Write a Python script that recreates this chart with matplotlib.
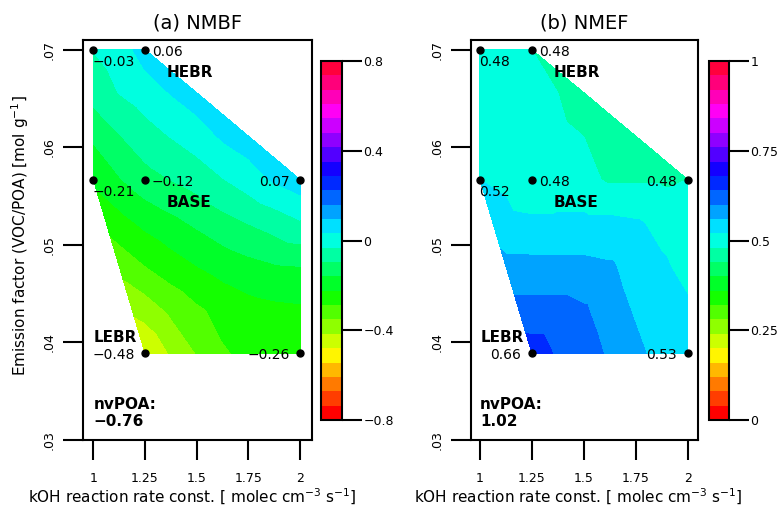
import numpy as np
import matplotlib
matplotlib.use("Agg")
import matplotlib.pyplot as plt
import matplotlib.tri as mtri
import colorsys

# ---------------- data ----------------
nan = np.nan
koh_grid = [1.0, 1.125, 1.25, 1.375, 1.5, 1.625, 1.75, 1.875, 2.0]
ef_grid = [0.07, 0.0656, 0.0611, 0.0567, 0.0522, 0.0478, 0.0433, 0.0389]

nmbf_grid = [
    [-0.03, 0.00, 0.06, nan, nan, nan, nan, nan, nan],
    [-0.07, -0.03, 0.00, 0.035, 0.065, nan, nan, nan, nan],
    [-0.15, -0.10, -0.06, -0.03, 0.00, 0.04, 0.065, nan, nan],
    [-0.21, -0.165, -0.12, -0.095, -0.07, -0.035, 0.00, 0.04, 0.07],
    [nan, -0.25, -0.21, -0.18, -0.15, -0.12, -0.095, -0.07, -0.04],
    [nan, -0.33, -0.29, -0.255, -0.225, -0.20, -0.18, -0.165, -0.16],
    [nan, nan, -0.39, -0.34, -0.30, -0.27, -0.25, -0.24, -0.235],
    [nan, nan, -0.48, -0.41, -0.35, -0.295, -0.275, -0.265, -0.26],
]
nmef_grid = [
    [0.48, 0.49, 0.48, nan, nan, nan, nan, nan, nan],
    [0.50, 0.50, 0.495, 0.48, 0.46, nan, nan, nan, nan],
    [0.505, 0.50, 0.50, 0.49, 0.48, 0.465, 0.46, nan, nan],
    [0.52, 0.51, 0.48, 0.49, 0.49, 0.475, 0.475, 0.475, 0.48],
    [nan, 0.535, 0.53, 0.53, 0.53, 0.53, 0.525, 0.51, 0.50],
    [nan, 0.57, 0.57, 0.57, 0.57, 0.565, 0.545, 0.525, 0.51],
    [nan, nan, 0.615, 0.615, 0.605, 0.58, 0.555, 0.54, 0.525],
    [nan, nan, 0.66, 0.635, 0.615, 0.595, 0.57, 0.545, 0.53],
]

pt_koh = [1.0, 1.25, 1.0, 1.25, 2.0, 1.25, 2.0]
pt_ef = [0.07, 0.07, 0.0567, 0.0567, 0.0567, 0.0389, 0.0389]
nmbf_pts = [-0.03, 0.06, -0.21, -0.12, 0.07, -0.48, -0.26]
nmef_pts = [0.48, 0.48, 0.52, 0.48, 0.48, 0.66, 0.53]
pt_place = ["below", "right", "below", "right", "left", "left", "left"]

nvpoa_nmbf = -0.76
nvpoa_nmef = 1.02

x_ticks = [1, 1.25, 1.5, 1.75, 2]
x_ticklabels = ["1", "1.25", "1.5", "1.75", "2"]
y_ticks = [0.03, 0.04, 0.05, 0.06, 0.07]
y_ticklabels = [".03", ".04", ".05", ".06", ".07"]

cb_ticks_a = [-0.8, -0.4, 0, 0.4, 0.8]
cb_labels_a = ["\u22120.8", "\u22120.4", "0", "0.4", "0.8"]
cb_ticks_b = [0, 0.25, 0.5, 0.75, 1]
cb_labels_b = ["0", "0.25", "0.5", "0.75", "1"]

# ---------------- style ----------------
plt.rcParams["font.family"] = ["DejaVu Sans"]
NLEV = 25
colors = [colorsys.hsv_to_rgb(k / NLEV, 1, 1) for k in range(NLEV)]

W, H = 781, 508
fig = plt.figure(figsize=(W / 100, H / 100), dpi=100)


def fr(l, t, r, b):
    return [l / W, 1 - b / H, (r - l) / W, (b - t) / H]


def fmt(v):
    s = f"{v:.2f}"
    return s.replace("-", "\u2212")


def panel(ax_box, cax_box, grid, pts, lo, hi, cb_ticks, cb_labels,
          title, nvpoa, xlim):
    ax = fig.add_axes(fr(*ax_box))
    cax = fig.add_axes(fr(*cax_box))
    X, Y = np.meshgrid(koh_grid, ef_grid)
    Z = np.array(grid, dtype=float)
    m = ~np.isnan(Z)
    tri = mtri.Triangulation(X[m], Y[m])
    levels = np.linspace(lo, hi, NLEV + 1)
    cs = ax.tricontourf(tri, Z[m], levels=levels, colors=colors,
                        antialiased=False)

    ax.plot(pt_koh, pt_ef, "o", color="black", ms=5, zorder=5)
    for x, y, v, p in zip(pt_koh, pt_ef, pts, pt_place):
        if p == "below":
            ax.annotate(fmt(v), (x, y), xytext=(-0.5, -12),
                        textcoords="offset points", ha="left",
                        va="baseline", fontsize=10, zorder=6)
        elif p == "right":
            ax.annotate(fmt(v), (x, y), xytext=(5, -4.5),
                        textcoords="offset points", ha="left",
                        va="baseline", fontsize=10, zorder=6)
        else:
            ax.annotate(fmt(v), (x, y), xytext=(-7.5, -4.5),
                        textcoords="offset points", ha="right",
                        va="baseline", fontsize=10, zorder=6)

    ax.text(1.356, 0.0672, "HEBR", fontsize=11, fontweight="bold",
            ha="left", va="baseline")
    ax.text(1.356, 0.0539, "BASE", fontsize=11, fontweight="bold",
            ha="left", va="baseline")
    ax.text(1.003, 0.0400, "LEBR", fontsize=11, fontweight="bold",
            ha="left", va="baseline")
    ax.text(1.0, 0.03315, "nvPOA:", fontsize=11, fontweight="bold",
            ha="left", va="baseline")
    ax.text(1.0, 0.0314, fmt(nvpoa), fontsize=11, fontweight="bold",
            ha="left", va="baseline")

    ax.set_xlim(*xlim)
    ax.set_ylim(0.03, 0.0710)
    ax.set_xticks(x_ticks)
    ax.set_xticklabels(x_ticklabels)
    ax.set_yticks(y_ticks)
    ax.set_yticklabels(y_ticklabels, rotation=90, va="center")
    ax.tick_params(axis="both", direction="out", length=14.4, width=1.5,
                   labelsize=9)
    ax.tick_params(axis="x", pad=8.5)
    ax.tick_params(axis="y", pad=5)
    for s in ax.spines.values():
        s.set_linewidth(1.5)
    ax.set_title(title, fontsize=14, pad=8)

    cb = fig.colorbar(cs, cax=cax, ticks=cb_ticks)
    cb.ax.set_yticklabels(cb_labels)
    cb.ax.tick_params(length=14.4, width=1.5, labelsize=9, pad=1)
    cb.outline.set_linewidth(1.5)
    return ax


panel((83, 40, 312, 440), (321, 61, 342, 420), nmbf_grid, nmbf_pts,
      -0.8, 0.8, cb_ticks_a, cb_labels_a, "(a) NMBF", nvpoa_nmbf,
      (0.950, 2.058))
panel((471, 40, 698, 440), (709, 61, 729, 420), nmef_grid, nmef_pts,
      0.0, 1.0, cb_ticks_b, cb_labels_b, "(b) NMEF", nvpoa_nmef,
      (0.957, 2.050))

xlab = "kOH reaction rate const. [ molec cm$^{-3}$ s$^{-1}$]"
fig.text(192 / W, 1 - 497 / H, xlab, ha="center", va="center", fontsize=11)
fig.text(578 / W, 1 - 497 / H, xlab, ha="center", va="center", fontsize=11)
fig.text(20 / W, 1 - 236 / H, "Emission factor (VOC/POA) [mol g$^{-1}$]",
         rotation=90, ha="center", va="center", fontsize=11)

fig.savefig("out.png", dpi=100)
